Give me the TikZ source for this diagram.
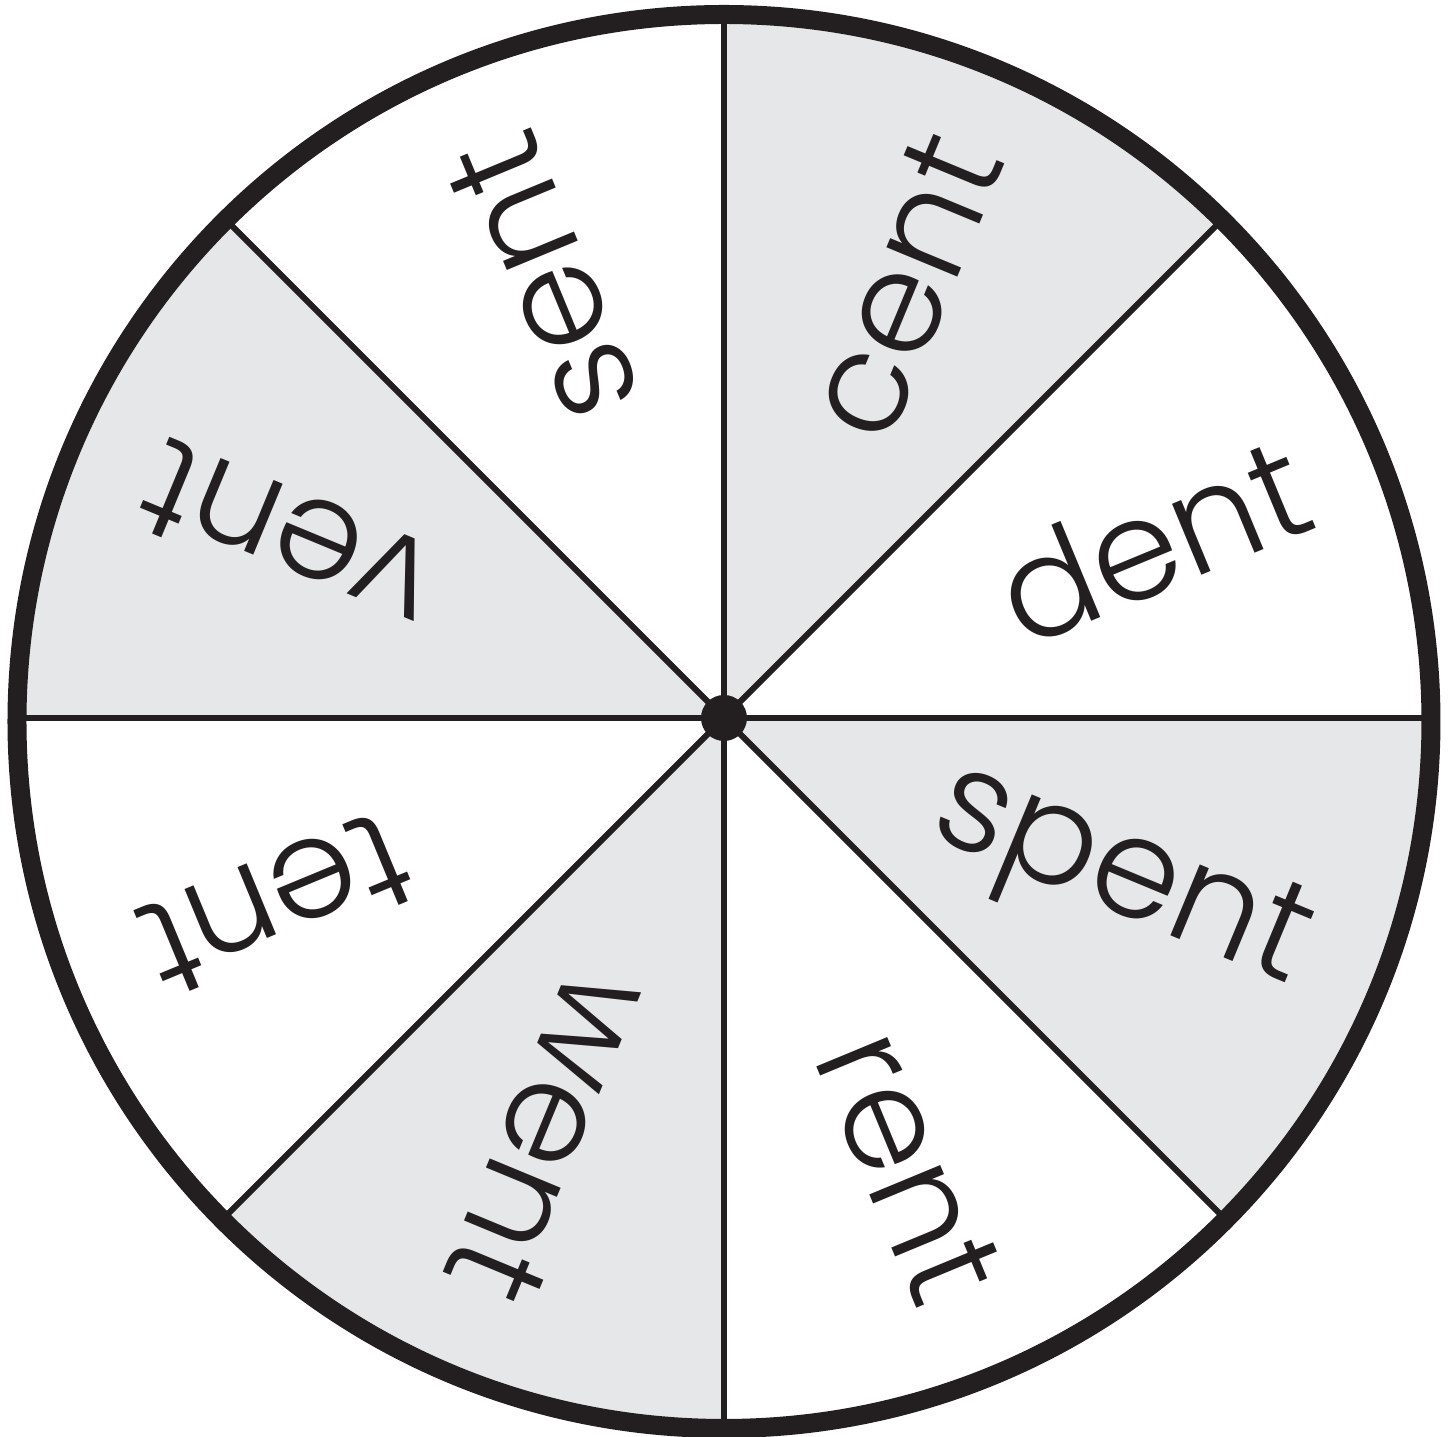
\documentclass[tikz,border=0pt]{standalone}
\usepackage{fontspec}
\setmainfont{Poppins}[UprightFont=* Light]
\usetikzlibrary{calc}
\definecolor{inkx}{HTML}{231F20}
\definecolor{greyx}{HTML}{E6E7E8}
\tikzset{
  rim/.style={draw=inkx,line width=1.9mm},
  spoke/.style={draw=inkx,line width=0.6mm},
  word/.style={anchor=east,inner sep=0pt,text=inkx,font=\fontsize{40}{48}\selectfont}
}
\begin{document}
\begin{tikzpicture}[x=0.1mm,y=0.1mm]
\useasboundingbox (-724,-719) rectangle (728,718);
\coordinate (hub) at (0,0);
\coordinate (mid) at (0,-3.5);
% shaded sectors
\foreach \a in {45,135,225,315}
  \fill[greyx] (hub) -- (\a:707) arc[start angle=\a,end angle=\a+45,radius=707] -- cycle;
\foreach \a in {0,45,...,315}
  \draw[spoke] (hub) -- (\a:707);
\draw[rim] (mid) circle[radius=707];
\fill[inkx] (hub) circle[radius=23];
% words, read outward
\foreach \a/\w in {22.5/dent,67.5/cent,112.5/sent,157.5/vent,202.5/tent,247.5/went,292.5/rent,337.5/spent}
  \node[word,rotate=\a] (\w) at (\a:625) {\w};
\end{tikzpicture}
\end{document}
